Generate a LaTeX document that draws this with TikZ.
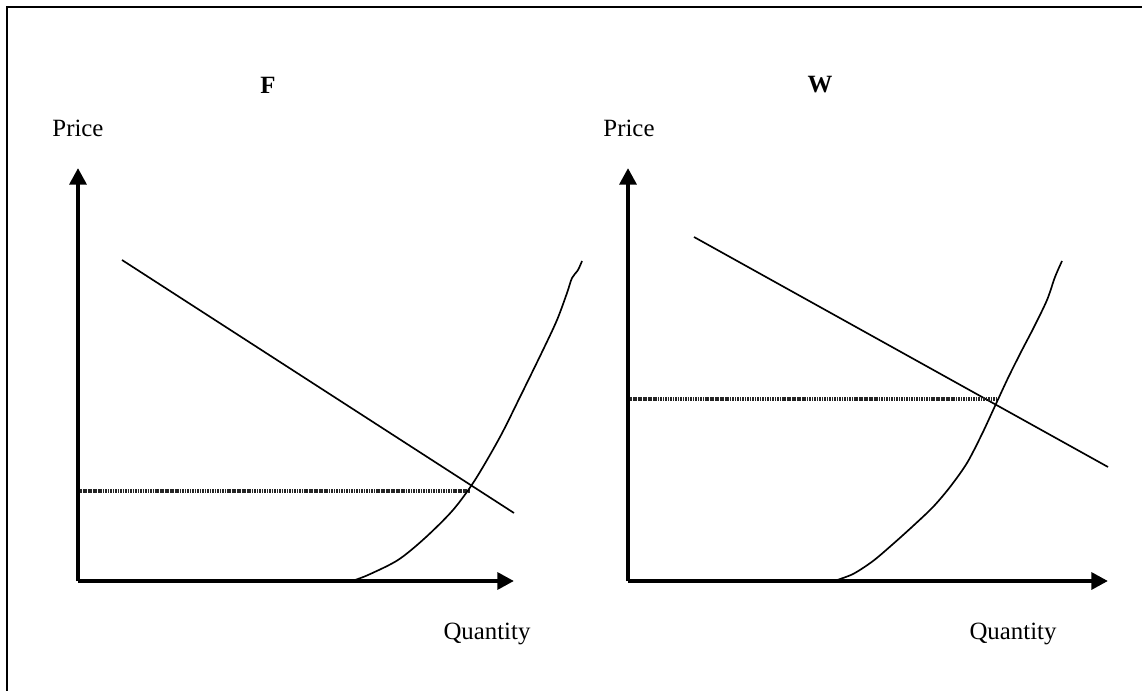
\documentclass[tikz,border=0pt]{standalone}
\usepackage{fontspec}
\setmainfont{Liberation Serif}
\usetikzlibrary{arrows.meta}

\begin{document}
\begin{tikzpicture}[x=0.4832pt, y=-0.4832pt,
    ax/.style={line width=2pt, -{Triangle[length=8pt, width=8pt]}},
    crv/.style={line width=0.8pt},
    lvl/.style={line width=1.5pt, dash pattern=on 0.8pt off 0.4pt, black!85},
    lbl/.style={font=\fontsize{12}{14}\selectfont, inner sep=0pt},
    ttl/.style={font=\fontsize{12}{14}\selectfont\bfseries, inner sep=0pt}
]
\useasboundingbox (0,0) rectangle (1142,691);
\draw[line width=1pt] (7,691) -- (7,7) -- (1142,7);

% left panel
\coordinate (fo) at (78,581);
\coordinate (fy) at (78,168);
\coordinate (fx) at (514,581);
\node[ttl] (ftitle) at (268,85) {F};
\node[lbl] (fprice) at (78,128) {Price};
\node[lbl] (fqty) at (487,634) {Quantity};
\draw[crv] (122,260) -- (514,513);
\draw[lvl] (fo |- 0,491) -- (470,491);
\draw[crv] plot[smooth, tension=0.5] coordinates {(352,581) (368,575) (398,560) (425,538) (453,510) (475,480) (500,437) (520,397) (543,350) (557,320) (567,293) (572,278) (578,270) (582,261)};
\draw[ax] (fo) -- (fy);
\draw[ax] (fo) -- (fx);

% right panel
\coordinate (wo) at (628,581);
\coordinate (wy) at (628,168);
\coordinate (wx) at (1108,581);
\node[ttl] (wtitle) at (820,85) {W};
\node[lbl] (wprice) at (629,128) {Price};
\node[lbl] (wqty) at (1013,634) {Quantity};
\draw[crv] (694,237) -- (1108,467);
\draw[lvl] (wo |- 0,399) -- (997,399);
\draw[crv] plot[smooth, tension=0.5] coordinates {(834,581) (853,574) (873,561) (893,544) (913,526) (933,507) (950,487) (967,463) (982,434) (995,406) (1008,378) (1021,352) (1034,327) (1047,300) (1055,277) (1062,261)};
\draw[ax] (wo) -- (wy);
\draw[ax] (wo) -- (wx);
\end{tikzpicture}
\end{document}
